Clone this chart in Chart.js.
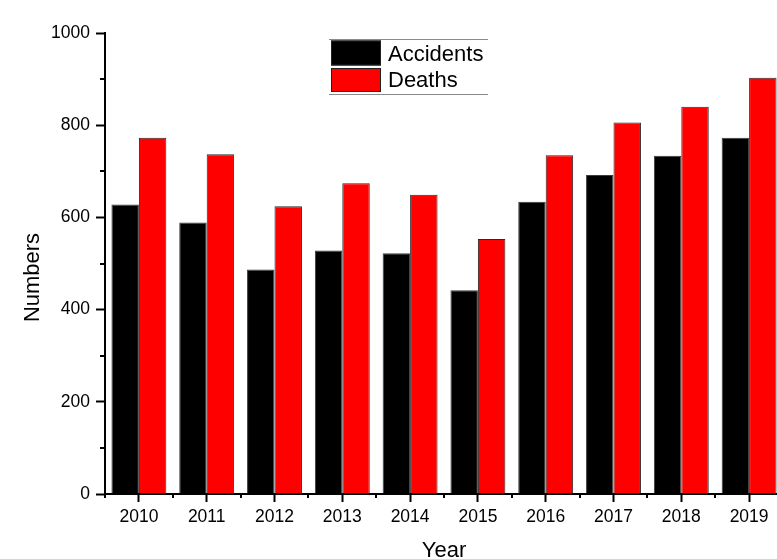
<!DOCTYPE html>
<html>
<head>
<meta charset="utf-8">
<script src="https://cdn.jsdelivr.net/npm/chart.js@4.4.1/dist/chart.umd.min.js"></script>
<style>
  html, body { margin: 0; padding: 0; background: #fff; overflow: hidden; width: 777px; height: 559px; }
  #wrap { width: 800px; height: 559px; }
  canvas { display: block; }
</style>
</head>
<body>
<div id="wrap"><canvas id="c" width="800" height="559"></canvas></div>
<script>
const years = ['2010', '2011', '2012', '2013', '2014', '2015', '2016', '2017', '2018', '2019'];
const accidents = [628, 589, 487, 528, 522, 442, 634, 692, 734, 773];
const deaths = [773, 737, 624, 674, 649, 553, 735, 806, 840, 903];
const yMajorTicks = [0, 200, 400, 600, 800, 1000];
const yMinorTicks = [100, 300, 500, 700, 900];

const FONT = '"Liberation Sans", Arial, sans-serif';

const extras = {
  id: 'extras',
  afterDraw(chart) {
    const ctx = chart.ctx;
    const xs = chart.scales.x, ys = chart.scales.y;
    const area = chart.chartArea;
    ctx.save();
    ctx.strokeStyle = '#000';
    ctx.lineWidth = 2;
    // y minor ticks
    yMinorTicks.forEach(v => {
      const y = Math.round(ys.getPixelForValue(v));
      ctx.beginPath();
      ctx.moveTo(area.left, y);
      ctx.lineTo(area.left - 5, y);
      ctx.stroke();
    });
    // x minor ticks at category boundaries
    const n = years.length;
    const step = n > 1 ? xs.getPixelForTick(1) - xs.getPixelForTick(0) : xs.width;
    for (let i = 0; i <= n; i++) {
      const x = Math.round(xs.getPixelForTick(0) - step / 2 + i * step);
      ctx.beginPath();
      ctx.moveTo(x, area.bottom);
      ctx.lineTo(x, area.bottom + 4);
      ctx.stroke();
    }
    // y title
    ctx.fillStyle = '#000';
    ctx.font = '22px ' + FONT;
    ctx.textAlign = 'center';
    ctx.textBaseline = 'middle';
    ctx.translate(33, 277.5);
    ctx.rotate(-Math.PI / 2);
    ctx.fillText('Numbers', 0, 0);
    ctx.restore();

    // legend
    ctx.save();
    const lx = 329, lw = 159, top = 39.5, bottom = 94.5;
    ctx.strokeStyle = '#8a8a8a';
    ctx.lineWidth = 1;
    ctx.beginPath();
    ctx.moveTo(lx, top); ctx.lineTo(lx + lw, top);
    ctx.moveTo(lx, bottom); ctx.lineTo(lx + lw, bottom);
    ctx.stroke();
    const rows = [{y: 40.5, h: 25}, {y: 68, h: 24}];
    const baselines = [60.5, 87];
    chart.data.datasets.forEach((ds, i) => {
      ctx.fillStyle = ds.backgroundColor;
      ctx.fillRect(331, rows[i].y, 50, rows[i].h);
      ctx.strokeStyle = '#222';
      ctx.lineWidth = 1;
      ctx.strokeRect(331.5, rows[i].y + 0.5, 49, rows[i].h - 1);
      ctx.fillStyle = '#000';
      ctx.font = '22px ' + FONT;
      ctx.textAlign = 'left';
      ctx.textBaseline = 'alphabetic';
      ctx.fillText(ds.label, 388, baselines[i]);
    });
    ctx.restore();
  }
};

new Chart(document.getElementById('c'), {
  type: 'bar',
  data: {
    labels: years,
    datasets: [
      { label: 'Accidents', data: accidents, backgroundColor: '#000000', borderColor: '#3a3a3a', borderWidth: 1 },
      { label: 'Deaths', data: deaths, backgroundColor: '#ff0000', borderColor: '#2a2a2a', borderWidth: 1 }
    ]
  },
  options: {
    responsive: false,
    animation: false,
    devicePixelRatio: 1,
    layout: { padding: { top: 33, right: 17, bottom: 0, left: 0 } },
    plugins: { legend: { display: false }, tooltip: { enabled: false } },
    datasets: { bar: { categoryPercentage: 0.81, barPercentage: 1.0 } },
    scales: {
      x: {
        offset: true,
        grid: { display: true, offset: false, drawOnChartArea: false, drawTicks: true, tickLength: 8, tickWidth: 2, tickColor: '#000' },
        border: { display: true, color: '#000', width: 2 },
        ticks: { color: '#000', font: { family: FONT, size: 17.5 }, padding: 5, maxRotation: 0, autoSkip: false },
        title: { display: true, text: 'Year', color: '#000', font: { family: FONT, size: 22, lineHeight: 1 }, padding: { top: 0, bottom: -3 } },
        afterFit(scale) { scale.height = 65; }
      },
      y: {
        min: 0, max: 1000,
        afterBuildTicks(scale) { scale.ticks = yMajorTicks.map(v => ({ value: v })); },
        grid: { display: true, drawOnChartArea: false, drawTicks: true, tickLength: 9, tickWidth: 2, tickColor: '#000' },
        border: { display: true, color: '#000', width: 2 },
        ticks: { color: '#000', font: { family: FONT, size: 17.5 }, padding: 6, callback: (v) => String(v) },
        afterFit(scale) { scale.width = 105; }
      }
    }
  },
  plugins: [extras]
});
</script>
</body>
</html>
